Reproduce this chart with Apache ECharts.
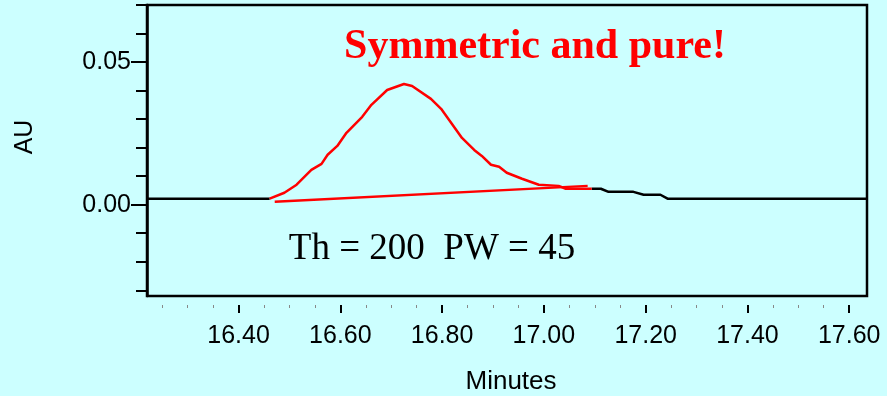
<!DOCTYPE html>
<html>
<head>
<meta charset="utf-8">
<script src="https://cdn.jsdelivr.net/npm/echarts@6/dist/echarts.min.js"></script>
<style>
html, body { margin: 0; padding: 0; background: #ccffff; }
#main { width: 887px; height: 396px; }
</style>
</head>
<body>
<div id="main"></div>
<script>
// baseline before the peak (black)
var leadX = [16.22, 16.461];
var leadY = [0.0021, 0.0021];
// integrated peak (red)
var peakX = [16.461, 16.490, 16.514, 16.543, 16.563, 16.575, 16.594, 16.612, 16.643, 16.661, 16.692, 16.725, 16.741,
    16.778, 16.798, 16.839, 16.863, 16.878, 16.896, 16.912, 16.927, 16.957, 16.990, 17.029, 17.043, 17.094];
var peakY = [0.0021, 0.0042, 0.0070, 0.0122, 0.0143, 0.0175, 0.0206, 0.0252, 0.0308, 0.0350, 0.0402, 0.0423, 0.0416,
    0.0371, 0.0336, 0.0234, 0.0192, 0.0171, 0.0140, 0.0133, 0.0112, 0.0091, 0.0070, 0.0066, 0.0056, 0.0056];
// tail after the peak (black)
var tailX = [17.094, 17.112, 17.127, 17.176, 17.196, 17.229, 17.243, 17.635];
var tailY = [0.0056, 0.0056, 0.0045, 0.0045, 0.0035, 0.0035, 0.0021, 0.0021];
// drawn baseline under the peak (red)
var baseX = [16.471, 17.086];
var baseY = [0.0010, 0.0066];

var xMajor = [16.4, 16.6, 16.8, 17.0, 17.2, 17.4, 17.6];
var xMinor = [16.25, 16.3, 16.35, 16.45, 16.5, 16.55, 16.65, 16.7, 16.75, 16.85, 16.9, 16.95, 17.05, 17.1, 17.15,
    17.25, 17.3, 17.35, 17.45, 17.5, 17.55];
var yMinor = [-0.03, -0.02, -0.01, 0, 0.01, 0.02, 0.03, 0.04, 0.05, 0.06, 0.07];
var yMajor = [0, 0.05];

function pairs(xs, ys) {
    var res = [];
    for (var i = 0; i < xs.length; i++) {
        res.push([xs[i], ys[i]]);
    }
    return res;
}

var myChart = echarts.init(document.getElementById('main'));
var labelFont = 'Liberation Sans';
var option = {
    backgroundColor: '#ccffff',
    animation: false,
    grid: {
        left: 147, right: 20, top: 5, bottom: 100,
        show: true,
        backgroundColor: '#ccffff',
        borderColor: '#000',
        borderWidth: 2.5
    },
    xAxis: [
        {
            type: 'value', min: 16.22, max: 17.635, offset: 9,
            axisLine: { show: false, onZero: false },
            splitLine: { show: false },
            axisTick: { show: true, customValues: xMajor, length: 8, lineStyle: { color: '#000', width: 2 } },
            axisLabel: {
                customValues: xMajor, margin: 19, color: '#000', fontSize: 25, fontFamily: labelFont,
                formatter: function (v) { return v.toFixed(2); }
            }
        },
        {
            type: 'value', min: 16.22, max: 17.635, offset: 9, position: 'bottom',
            axisLine: { show: false, onZero: false },
            splitLine: { show: false },
            axisTick: { show: true, customValues: xMinor, length: 3, lineStyle: { color: '#888', width: 1 } },
            axisLabel: { show: false }
        }
    ],
    yAxis: [
        {
            type: 'value', min: -0.032, max: 0.07,
            axisLine: { show: true, onZero: false, lineStyle: { color: '#000', width: 2.5 } },
            splitLine: { show: false },
            axisTick: { show: true, customValues: yMinor, length: 11, lineStyle: { color: '#000', width: 2 } },
            axisLabel: {
                customValues: yMajor, margin: 16, color: '#000', fontSize: 25, fontFamily: labelFont,
                padding: [0, 0, 9, 0],
                formatter: function (v) { return v.toFixed(2); }
            }
        },
        {
            type: 'value', min: -0.032, max: 0.07, position: 'left',
            axisLine: { show: false, onZero: false },
            splitLine: { show: false },
            axisTick: { show: true, customValues: yMajor, length: 16, lineStyle: { color: '#000', width: 2 } },
            axisLabel: { show: false }
        }
    ],
    graphic: [
        {
            type: 'text', x: 535, y: 47,
            style: {
                text: 'Symmetric and pure!', fill: '#ff0000', align: 'center', verticalAlign: 'middle',
                font: 'bold 42px "Liberation Serif", "Times New Roman", serif'
            }
        },
        {
            type: 'text', x: 432, y: 249,
            style: {
                text: 'Th = 200  PW = 45', fill: '#000', align: 'center', verticalAlign: 'middle',
                font: '37px "Liberation Serif", "Times New Roman", serif'
            }
        },
        {
            type: 'text', x: 511, y: 382,
            style: {
                text: 'Minutes', fill: '#000', align: 'center', verticalAlign: 'middle',
                font: '26px "Liberation Sans", Arial, sans-serif'
            }
        },
        {
            type: 'text', x: 25, y: 137, rotation: Math.PI / 2,
            style: {
                text: 'AU', fill: '#000', align: 'center', verticalAlign: 'middle',
                font: '25px "Liberation Sans", Arial, sans-serif'
            }
        }
    ],
    series: [
        {
            type: 'line', data: pairs(leadX, leadY), symbol: 'none',
            lineStyle: { color: '#000', width: 2.5 }
        },
        {
            type: 'line', data: pairs(tailX, tailY), symbol: 'none',
            lineStyle: { color: '#000', width: 2.5 }
        },
        {
            type: 'line', data: pairs(baseX, baseY), symbol: 'none', z: 3,
            lineStyle: { color: '#ff0000', width: 2.5 }
        },
        {
            type: 'line', data: pairs(peakX, peakY), symbol: 'none', z: 4,
            lineStyle: { color: '#ff0000', width: 2.5 }
        }
    ]
};
myChart.setOption(option);
</script>
</body>
</html>
